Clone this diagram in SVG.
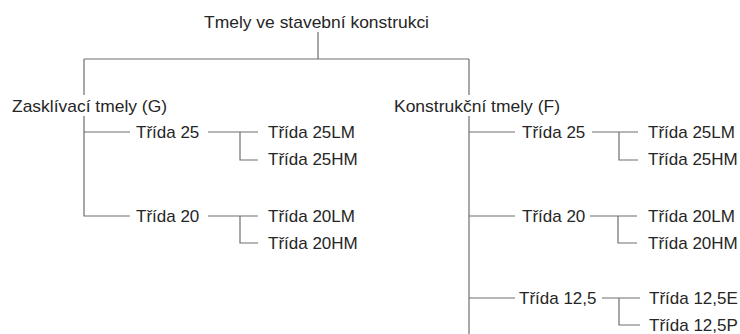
<svg xmlns="http://www.w3.org/2000/svg" width="740" height="334" viewBox="0 0 740 334">
<style>
text{font-family:"Liberation Sans",Arial,sans-serif;font-size:17px;fill:#262626}
.c path{fill:none;stroke:#6e6e6e;stroke-width:1.2}
</style>
<rect width="740" height="334" fill="#fff"/>
<g class="c" id="connectors">
<path d="M318 32V59M84 59H469"/>
<path d="M84 59V95M84 116V216H130M84 132H130"/>
<path d="M208 132H258M240 132V160H258"/>
<path d="M208 216H258M240 216V243H258"/>
<path d="M469 59V95M469 116V334"/>
<path d="M469 132H515M592 132H638M619 132V160H638"/>
<path d="M469 216H515M590 216H637M618 216V243H637"/>
<path d="M469 298H515M602 298H640M619 298V325H640"/>
</g>
<g id="root"><text x="204" y="28" textLength="225" lengthAdjust="spacingAndGlyphs">Tmely ve stavební konstrukci</text></g>
<g id="g"><text x="12" y="112" textLength="155" lengthAdjust="spacingAndGlyphs">Zasklívací tmely (G)</text></g>
<g id="f"><text x="394" y="112" textLength="166" lengthAdjust="spacingAndGlyphs">Konstrukční tmely (F)</text></g>
<g id="g25"><text x="136" y="138">Třída 25</text></g>
<g id="g25lm"><text x="268" y="138">Třída 25LM</text></g>
<g id="g25hm"><text x="268" y="165">Třída 25HM</text></g>
<g id="g20"><text x="136" y="222">Třída 20</text></g>
<g id="g20lm"><text x="268" y="222">Třída 20LM</text></g>
<g id="g20hm"><text x="268" y="249">Třída 20HM</text></g>
<g id="f25"><text x="522" y="138">Třída 25</text></g>
<g id="f25lm"><text x="648" y="138">Třída 25LM</text></g>
<g id="f25hm"><text x="648" y="165">Třída 25HM</text></g>
<g id="f20"><text x="522" y="222">Třída 20</text></g>
<g id="f20lm"><text x="648" y="222">Třída 20LM</text></g>
<g id="f20hm"><text x="648" y="249">Třída 20HM</text></g>
<g id="f125"><text x="519" y="304">Třída 12,5</text></g>
<g id="f125e"><text x="649" y="304">Třída 12,5E</text></g>
<g id="f125p"><text x="649" y="331">Třída 12,5P</text></g>
</svg>
